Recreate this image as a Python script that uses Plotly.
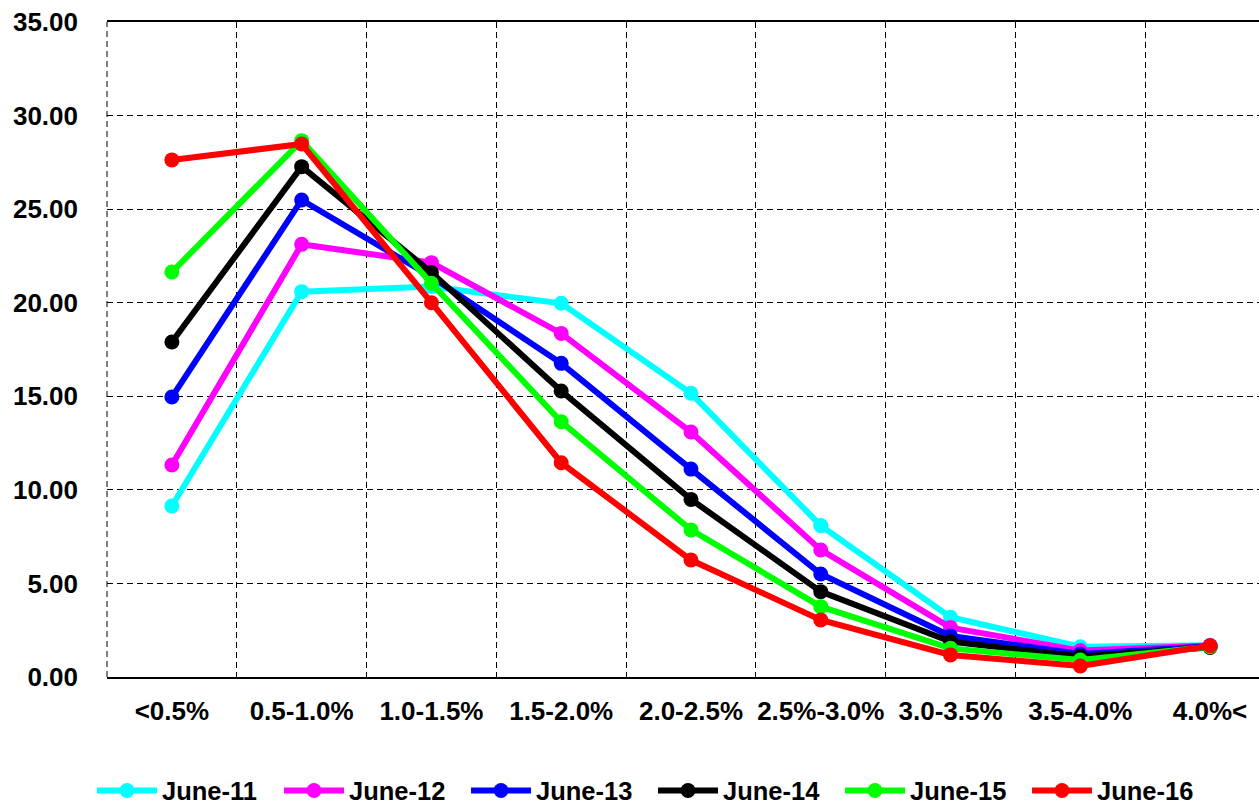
import plotly.graph_objects as go

# Rate bands along the x axis
bands = ["<0.5%", "0.5-1.0%", "1.0-1.5%", "1.5-2.0%", "2.0-2.5%",
         "2.5%-3.0%", "3.0-3.5%", "3.5-4.0%", "4.0%<"]

# Share (%) in each band, one list per year
june_11 = [9.14, 20.59, 20.86, 19.97, 15.16, 8.09, 3.19, 1.62, 1.70]
june_12 = [11.33, 23.12, 22.14, 18.36, 13.09, 6.79, 2.64, 1.41, 1.68]
june_13 = [14.96, 25.49, 21.39, 16.76, 11.11, 5.50, 2.19, 1.23, 1.64]
june_14 = [17.90, 27.27, 21.62, 15.28, 9.49, 4.56, 1.89, 1.09, 1.58]
june_15 = [21.64, 28.66, 21.04, 13.64, 7.86, 3.76, 1.53, 0.91, 1.62]
june_16 = [27.63, 28.48, 20.00, 11.45, 6.25, 3.05, 1.18, 0.59, 1.67]

series = [
    ("June-11", june_11, "#00FFFF"),
    ("June-12", june_12, "#FF00FF"),
    ("June-13", june_13, "#0000FF"),
    ("June-14", june_14, "#000000"),
    ("June-15", june_15, "#00FF00"),
    ("June-16", june_16, "#FF0000"),
]

xpos = list(range(len(bands)))

fig = go.Figure()
for name, vals, color in series:
    fig.add_trace(go.Scatter(
        x=xpos, y=vals, name=name, mode="lines+markers",
        line=dict(color=color, width=6),
        marker=dict(color=color, size=15),
    ))

font_family = "Arial, Liberation Sans, sans-serif"
grid_dash = "6px,4px"

fig.update_layout(
    width=1259, height=808,
    margin=dict(l=107, r=0, t=22, b=131, autoexpand=False),
    paper_bgcolor="white", plot_bgcolor="white",
    font=dict(family=font_family, color="black", size=26, weight="bold"),
    showlegend=True,
    legend=dict(
        orientation="h", x=-0.013, xanchor="left",
        y=-0.138, yanchor="top",
        font=dict(size=25.5, family=font_family, weight="bold"),
        itemwidth=60, entrywidth=112, entrywidthmode="pixels",
        tracegroupgap=0,
    ),
    # dashed left border of the plotting area
    shapes=[dict(type="line", xref="x domain", yref="y domain",
                 x0=0, x1=0, y0=0, y1=1,
                 line=dict(color="black", width=1, dash=grid_dash))],
)

fig.update_xaxes(
    range=[-0.5, 8.377],
    tickmode="array", tickvals=xpos, ticktext=bands,
    showgrid=False, zeroline=False,
    ticks="", ticklabelstandoff=10,
    tickfont=dict(size=26, family=font_family, weight="bold"),
    showline=True, mirror=True, linecolor="black", linewidth=2,
    minor=dict(tick0=-0.5, dtick=1, showgrid=True, gridcolor="black",
               griddash=grid_dash, gridwidth=1, ticks=""),
)

fig.update_yaxes(
    range=[0, 35], dtick=5, tick0=0, tickformat=".2f",
    showgrid=True, gridcolor="black", griddash=grid_dash, gridwidth=1,
    zeroline=True, zerolinecolor="black", zerolinewidth=3,
    showline=False, ticks="", ticklabelstandoff=28,
    tickfont=dict(size=26, family=font_family, weight="bold"),
)

fig.write_html("out.html")
